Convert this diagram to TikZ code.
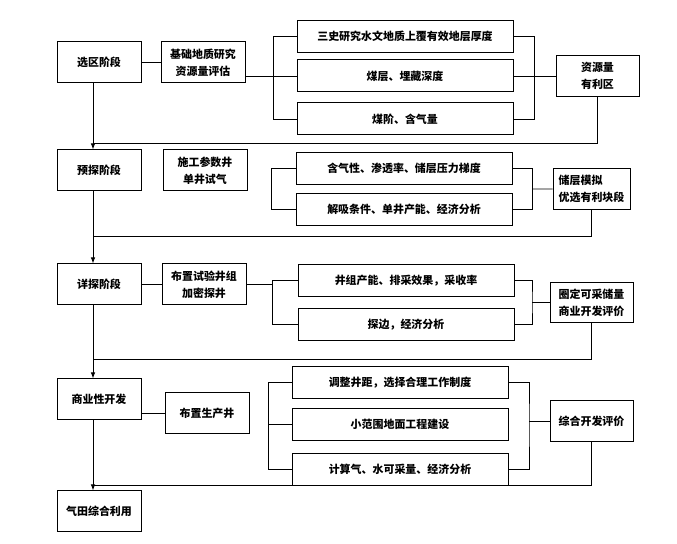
\documentclass[tikz,border=0pt]{standalone}
\usepackage{fontspec}
\setmainfont{Noto Sans CJK SC}
\usetikzlibrary{arrows.meta,positioning,calc}

\begin{document}
\begin{tikzpicture}[
  x=1bp, y=1bp,
  font=\fontsize{11}{17}\selectfont\bfseries,
  stage/.style={draw, line width=1pt, minimum width=84bp, minimum height=41bp, align=center, inner sep=2pt},
  task/.style={stage},
  item/.style={draw, line width=1pt, minimum width=216bp, minimum height=32bp, inner sep=2pt},
  result/.style={draw, line width=1pt, minimum width=83bp, minimum height=41bp, align=center, inner sep=2pt},
  link/.style={line width=0.9pt},
  arrow/.style={-{Latex[length=6bp,width=4.5bp]}, line width=0.9pt}
]
\useasboundingbox (0,0) rectangle (677,-544);
\node[stage] (s1) at (99,-62.5) {选区阶段};
\node[stage, below=66bp of s1] (s2) {预探阶段};
\node[stage, below=72bp of s2] (s3) {详探阶段};
\node[stage, below=73bp of s3] (s4) {商业性开发};
\node[stage, below=70bp of s4] (s5) {气田综合利用};

\node[task, right=19bp of s1] (a1) {基础地质研究\\资源量评估};
\node[task, right=21bp of s2] (a2) {施工参数井\\单井试气};
\node[task, right=20bp of s3] (a3) {布置试验井组\\加密探井};
\node[task, right=23bp of s4, yshift=-14bp] (a4) {布置生产井};

\node[item, right=51bp of a1, yshift=-13.5bp] (b12) {煤层、埋藏深度};
\node[item, above=7bp of b12] (b11) {三史研究水文地质上覆有效地层厚度};
\node[item, below=10bp of b12] (b13) {煤阶、含气量};
\node[result, right=42bp of b12] (r1) {资源量\\有利区};

\node[item, right=48bp of a2, yshift=2bp] (b21) {含气性、渗透率、储层压力梯度};
\node[item, below=8bp of b21] (b22) {解吸条件、单井产能、经济分析};
\coordinate (m2) at ($(b21.east)!.5!(b22.east)$);
\node[result, right=40bp of m2, minimum width=77bp, inner xsep=5bp, align=left] (r2) {储层模拟\\优选有利块段};

\node[item, right=51bp of a3, yshift=4bp] (b31) {井组产能、排采效果，采收率};
\node[item, below=11bp of b31] (b32) {探边，经济分析};
\coordinate (m3) at ($(b31.east)!.5!(b32.east)$);
\node[result, right=35bp of m3, minimum height=40bp] (r3) {圈定可采储量\\商业开发评价};

\node[item, right=42bp of a4, yshift=-11bp] (b42) {小范围地面工程建设};
\node[item, above=9bp of b42] (b41) {调整井距，选择合理工作制度};
\node[item, below=12bp of b42] (b43) {计算气、水可采量、经济分析};
\node[result, right=41bp of b42, yshift=3bp] (r4) {综合开发评价};

\coordinate (l1) at ($(b12.west)+(-23bp,0)$);
\coordinate (l2) at ($(b21.west)!.5!(b22.west)+(-24bp,0)$);
\coordinate (l3) at ($(b31.west)!.5!(b32.west)+(-25bp,0)$);
\coordinate (l4) at ($(b42.west)+(-23bp,0)$);
\coordinate (q1) at ($(b12.east)!.5!(r1.west)$);
\coordinate (q2) at ($(m2)!.5!(r2.west)$);
\coordinate (q3) at ($(m3)!.5!(r3.west)$);
\coordinate (q4) at ($(b42.east)!.5!(r4.west |- b42.east)$);
\coordinate (j1) at ($(s2.north)+(-6bp,6bp)$);
\coordinate (j2) at ($(s3.north)+(-6bp,27bp)$);
\coordinate (j3) at ($(s4.north)+(-6bp,19bp)$);
\coordinate (j4) at ($(s5.north)+(-6bp,5bp)$);

\draw[link] (s1) -- (a1);
\draw[link] (a1.east |- b12.west) -- (b12.west);
\draw[link] (b11.west) -| (l1) |- (b13.west);
\draw[link] (b11.east) -| (q1) |- (b13.east);
\draw[link] (b12.east) -- (r1.west);
\draw[link] (r1.south) |- (j1);
\draw[arrow] ([xshift=-6bp]s1.south) -- ([xshift=-6bp]s2.north);

\draw[link] (b21.west) -| (l2) |- (b22.west);
\draw[link] (b21.east) -| (q2) |- (b22.east);
\draw[link] (q2) -- (r2.west);
\draw[link] (r2.south) |- (j2);
\draw[arrow] ([xshift=-6bp]s2.south) -- ([xshift=-6bp]s3.north);

\draw[link] (s3) -- (a3);
\draw[link] (a3.east) -- (a3.east -| l3);
\draw[link] (b31.west) -| (l3) |- (b32.west);
\draw[link] (b31.east) -| (q3) |- (b32.east);
\draw[link] (q3) -- (r3.west);
\draw[link] (r3.south) |- (j3);
\draw[arrow] ([xshift=-6bp]s3.south) -- ([xshift=-6bp]s4.north);

\draw[link] (a4.west -| s4.east) -- (a4.west);
\draw[link] (b41.west) -| (l4) |- (b43.west);
\draw[link] (b42.west) -- (l4);
\draw[link] (b41.east) -| (q4) |- (b43.east);
\draw[link] (r4.west) -- (r4.west -| q4);
\draw[link] (r4.south) |- (j4);
\draw[arrow] ([xshift=-6bp]s4.south) -- ([xshift=-6bp]s5.north);
\end{tikzpicture}
\end{document}
